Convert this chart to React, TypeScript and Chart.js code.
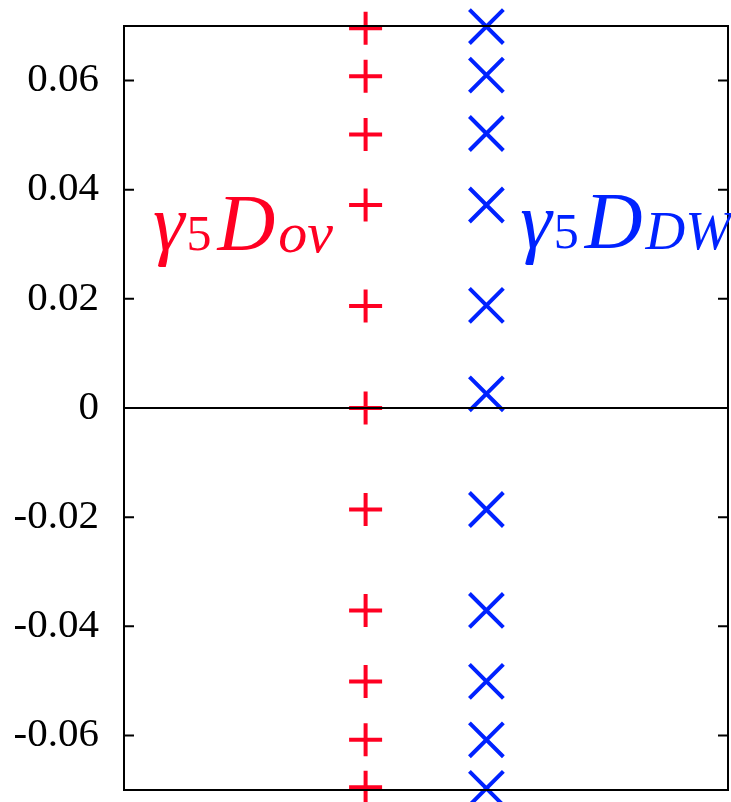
import React, { useEffect, useRef } from "react";
import { Chart, registerables } from "chart.js";

Chart.register(...registerables);

// Data
const ovX = 2; // horizontal slot of the gamma5 D_ov spectrum
const dwX = 3; // horizontal slot of the gamma5 D_DW spectrum
const ovValues = [0.0696, 0.0608, 0.0501, 0.0372, 0.0187, 0, -0.0186, -0.0371, -0.0501, -0.0608, -0.0695];
const dwValues = [0.0699, 0.061, 0.0503, 0.0372, 0.0188, 0.0026, -0.0186, -0.0371, -0.0501, -0.0608, -0.0697];
const yTicks = [-0.06, -0.04, -0.02, 0, 0.02, 0.04, 0.06];
const yMin = -0.07;
const yMax = 0.07;
const xMin = 0;
const xMax = 5;

const RED = "#ff0022";
const BLUE = "#0022ff";
const SERIF = '"Liberation Serif", "Times New Roman", serif';

// label anchors in data coordinates
const ovLabelPos = { x: 0.24, y: 0.029 };
const dwLabelPos = { x: 3.28, y: 0.0293 };

type Piece = { text: string; size: number; italic: boolean; dy: number; gap: number };

const ovLabel: Piece[] = [
  { text: "γ", size: 80, italic: true, dy: 0, gap: 0 },
  { text: "5", size: 50, italic: false, dy: 0, gap: 2 },
  { text: "D", size: 80, italic: true, dy: 0, gap: 6 },
  { text: "ov", size: 58, italic: true, dy: 2, gap: 3 },
];
const dwLabel: Piece[] = [
  { text: "γ", size: 80, italic: true, dy: 0, gap: 0 },
  { text: "5", size: 50, italic: false, dy: 0, gap: 2 },
  { text: "D", size: 80, italic: true, dy: 0, gap: 6 },
  { text: "DW", size: 55, italic: true, dy: 1, gap: 3 },
];

function drawLabel(ctx: CanvasRenderingContext2D, pieces: Piece[], x: number, y: number, color: string) {
  let cx = x;
  ctx.fillStyle = color;
  ctx.textBaseline = "alphabetic";
  ctx.textAlign = "left";
  for (const p of pieces) {
    cx += p.gap;
    ctx.font = `${p.italic ? "italic " : ""}${p.size}px ${SERIF}`;
    ctx.fillText(p.text, cx, y + p.dy);
    cx += ctx.measureText(p.text).width;
  }
}

const framePlugin = {
  id: "frame",
  afterDatasetsDraw(chart: any) {
    const { ctx, chartArea: a, scales } = chart;
    const ys = scales.y;
    ctx.save();
    ctx.strokeStyle = "#000";
    ctx.lineWidth = 2;
    const y0 = ys.getPixelForValue(0);
    ctx.beginPath();
    ctx.moveTo(a.left, y0);
    ctx.lineTo(a.right, y0);
    ctx.stroke();
    ctx.beginPath();
    for (const v of yTicks) {
      const py = ys.getPixelForValue(v);
      ctx.moveTo(a.left, py);
      ctx.lineTo(a.left + 10, py);
      ctx.moveTo(a.right, py);
      ctx.lineTo(a.right - 10, py);
    }
    ctx.stroke();
    ctx.strokeRect(a.left, a.top, a.right - a.left, a.bottom - a.top);
    ctx.restore();
  },
  afterDraw(chart: any) {
    const { ctx, scales } = chart;
    ctx.save();
    drawLabel(ctx, ovLabel, scales.x.getPixelForValue(ovLabelPos.x), scales.y.getPixelForValue(ovLabelPos.y), RED);
    drawLabel(ctx, dwLabel, scales.x.getPixelForValue(dwLabelPos.x), scales.y.getPixelForValue(dwLabelPos.y), BLUE);
    ctx.restore();
  },
};

export default function App() {
  const ref = useRef<HTMLCanvasElement>(null);
  useEffect(() => {
    if (!ref.current) return;
    const chart = new Chart(ref.current, {
      type: "scatter",
      data: {
        datasets: [
          {
            label: "ov",
            data: ovValues.map((v) => ({ x: ovX, y: v })),
            pointStyle: "cross",
            pointRadius: 16.5,
            pointHoverRadius: 16.5,
            borderWidth: 4,
            pointBorderWidth: 4,
            borderColor: RED,
            backgroundColor: RED,
            clip: false,
          } as any,
          {
            label: "dw",
            data: dwValues.map((v) => ({ x: dwX, y: v })),
            pointStyle: "crossRot",
            pointRadius: 24,
            pointHoverRadius: 24,
            borderWidth: 4,
            pointBorderWidth: 4,
            borderColor: BLUE,
            backgroundColor: BLUE,
            clip: false,
          } as any,
        ],
      },
      options: {
        responsive: false,
        animation: false,
        devicePixelRatio: 1,
        layout: { autoPadding: false, padding: { left: 0, top: 26, right: 3, bottom: 12 } },
        plugins: { legend: { display: false }, tooltip: { enabled: false } },
        events: [],
        scales: {
          x: { type: "linear", min: xMin, max: xMax, display: false },
          y: {
            type: "linear",
            min: yMin,
            max: yMax,
            grid: { display: false, drawTicks: false },
            border: { display: false },
            afterBuildTicks: (scale: any) => {
              scale.ticks = yTicks.map((v) => ({ value: v }));
            },
            afterFit: (scale: any) => {
              scale.width = 124;
              scale.paddingTop = 0;
              scale.paddingBottom = 0;
            },
            ticks: {
              padding: 25,
              color: "#000",
              font: { family: SERIF, size: 41 },
              callback: (v: any) => (Number(v) === 0 ? "0" : Number(v).toFixed(2)),
            },
          },
        },
      } as any,
      plugins: [framePlugin],
    });
    return () => chart.destroy();
  }, []);
  return (
    <div style={{ position: "fixed", left: 0, top: 0, width: 731, height: 802, background: "#fff" }}>
      <canvas ref={ref} width={731} height={802} />
    </div>
  );
}
